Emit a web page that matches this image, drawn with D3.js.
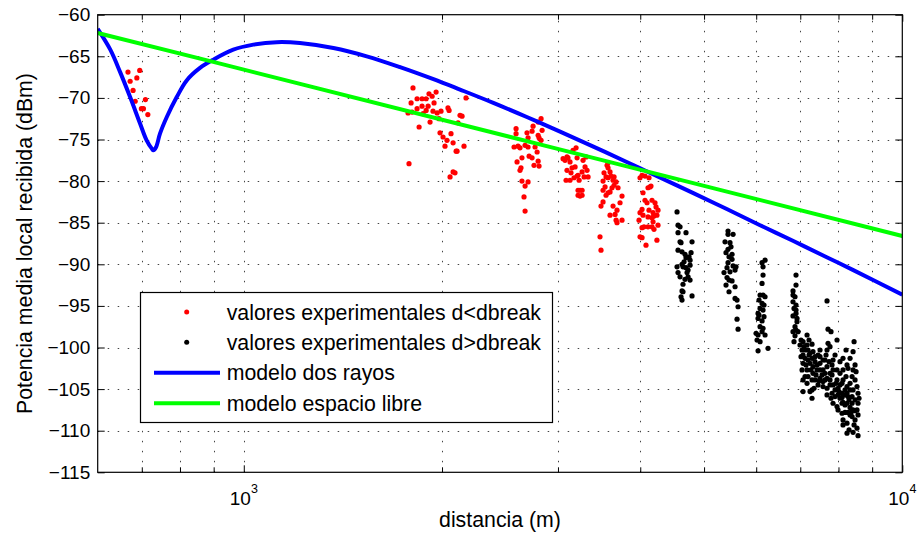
<!DOCTYPE html>
<html>
<head>
<meta charset="utf-8">
<script src="https://cdn.jsdelivr.net/npm/d3@7"></script>
<style>
  body { margin: 0; background: #fff; }
  text { font-family: "Liberation Sans", Arial, Helvetica, sans-serif; fill: #000; }
</style>
</head>
<body>
<script>
// measured points, distance (m) and power (dBm)
var redPoints = [
  [667,-66.9],[672,-68.0],[679,-69.1],[684,-70.4],[688,-67.6],[695,-66.7],[699,-71.3],[704,-71.3],[709,-70.2],[715,-72.0],
  [1807,-68.8],[1795,-70.6],[1833,-70.1],[1865,-70.1],[1892,-70.1],[1911,-69.5],[1932,-69.8],[1959,-69.3],[1945,-70.6],[1905,-71.0],
  [1865,-71.0],[1833,-71.3],[1801,-71.7],[1776,-71.8],[1846,-73.5],[1872,-71.9],[1918,-72.9],[1938,-71.6],[1966,-71.8],[1993,-71.6],
  [2042,-71.2],[2050,-71.5],[1986,-74.2],[2007,-74.7],[2035,-75.1],[2064,-74.3],[2079,-75.4],[2021,-75.8],[2101,-76.4],[2108,-76.4],
  [2160,-75.8],[2130,-72.1],[2145,-72.2],[2115,-73.0],[2175,-70.0],[1782,-77.9],[2057,-79.5],[2079,-78.9],[2093,-79.0],[1979,-72.5],[1892,-71.5],
  [2591,-73.7],[2591,-74.3],[2573,-75.9],[2609,-75.8],[2627,-76.0],[2600,-77.7],[2645,-77.2],[2636,-78.4],[2627,-78.7],[2645,-80.0],
  [2674,-80.6],[2702,-80.1],[2664,-81.9],[2674,-83.6],[2692,-74.2],[2702,-74.8],[2740,-74.0],[2750,-73.4],[2799,-72.9],[2828,-72.5],
  [2799,-74.5],[2828,-75.1],[2808,-74.8],[2838,-73.9],[2712,-77.0],[2740,-77.2],[2759,-78.1],[2808,-78.2],[2789,-76.5],[2799,-77.6],
  [2769,-75.9],[2702,-75.9],[2674,-75.7],
  [3196,-76.0],[3162,-76.3],[3096,-77.1],[3075,-77.5],[3107,-77.2],[3129,-77.7],[3207,-77.2],[3185,-78.3],[3151,-78.4],[3096,-78.7],
  [3140,-79.0],[3129,-79.9],[3086,-79.9],[3207,-79.4],[3218,-79.3],[3264,-78.9],[3298,-78.3],[3321,-78.7],[3287,-79.5],[3333,-79.5],
  [3275,-77.5],[3310,-77.1],[3218,-81.1],[3241,-81.1],[3264,-81.1],[3218,-81.7],[3241,-81.8],[3264,-81.7],[3173,-79.6],[3230,-79.9],[3054,-77.3],
  [3562,-78.1],[3574,-78.4],[3549,-79.5],[3512,-80.0],[3574,-79.6],[3611,-79.4],[3637,-79.9],[3650,-79.5],[3676,-80.1],[3650,-80.5],
  [3624,-80.8],[3599,-81.3],[3574,-81.4],[3549,-81.7],[3512,-81.1],[3537,-80.7],[3701,-80.8],[3753,-81.8],[3727,-82.6],[3637,-83.0],
  [3688,-83.5],[3663,-84.0],[3599,-84.1],[3512,-82.5],[3487,-83.0],[3676,-84.7],[3688,-85.0],[3753,-84.7],[3475,-86.7],[3487,-88.3],
  [3524,-79.0],[3599,-78.9],[3574,-77.8],
  [4025,-79.3],[3997,-79.6],[4067,-79.4],[4124,-79.6],[4153,-80.6],[4110,-80.8],[4067,-82.3],[4096,-82.6],[4124,-83.5],[4025,-83.4],
  [3997,-83.8],[4039,-84.1],[4110,-84.3],[4168,-84.4],[4197,-84.2],[4240,-84.1],[4256,-83.5],[4227,-83.1],[4183,-83.8],[4183,-84.9],
  [4168,-85.5],[4110,-85.5],[4053,-85.5],[4025,-85.6],[4256,-85.3],[4197,-85.8],[3997,-86.7],[4025,-86.8],[4081,-87.7],[4240,-87.1],
  [3983,-84.7],[4168,-82.3],[4039,-81.4],[4212,-82.6],[4139,-80.7]
];

var blackPoints = [
  [4549,-83.7],[4565,-85.3],[4597,-85.5],[4565,-86.2],[4694,-86.2],[4597,-87.3],[4613,-87.4],[4794,-87.3],[4565,-88.3],[4629,-88.5],
  [4678,-88.8],[4778,-88.6],[4744,-89.1],[4761,-89.5],[4662,-89.7],[4629,-90.0],[4549,-90.3],[4694,-90.4],[4728,-90.7],[4565,-91.0],
  [4711,-91.0],[4728,-91.5],[4678,-91.8],[4597,-91.5],[4761,-91.9],[4645,-92.4],[4629,-93.2],[4613,-93.9],[4629,-94.3],[4794,-93.8],
  [4694,-89.2],[4645,-90.3],[4761,-90.1],[4645,-93.3],
  [5437,-86.0],[5437,-86.4],[5534,-86.4],[5380,-87.3],[5475,-87.4],[5494,-87.9],[5437,-88.2],[5399,-88.6],[5514,-88.8],[5456,-89.1],
  [5514,-89.4],[5437,-89.8],[5534,-90.2],[5591,-90.3],[5572,-90.7],[5361,-91.0],[5418,-91.6],[5456,-91.9],[5514,-92.0],[5399,-92.5],
  [5572,-92.7],[5456,-93.3],[5572,-94.1],[5611,-94.3],[5631,-95.1],[5611,-96.6],[5631,-97.8],[5418,-90.4],[5475,-90.9],
  [6188,-89.5],[6124,-89.8],[6145,-90.3],[6145,-91.3],[6124,-92.3],[6081,-93.7],[6145,-93.7],[6188,-93.9],[6060,-94.3],[6124,-94.7],
  [6166,-94.9],[6081,-95.3],[6145,-95.5],[6039,-95.9],[6060,-96.1],[6039,-96.5],[6124,-96.8],[6081,-97.5],[6145,-97.7],[5997,-98.3],
  [6039,-98.5],[6188,-98.5],[6018,-99.1],[6081,-99.3],[6253,-100.1],[6039,-100.4],[6124,-98.1],[6166,-96.3],
  [6896,-91.3],[6896,-92.5],[6824,-93.2],[6824,-93.7],[6872,-93.9],[6824,-94.5],[6896,-94.9],[6848,-95.3],[6896,-95.9],[6824,-96.2],
  [6920,-96.5],[6920,-96.9],[6872,-97.5],[6896,-97.9],[6824,-98.1],[6872,-98.6],[6848,-99.3],[7686,-94.4],[6944,-98.1],[6896,-95.5],
  [7167,-98.5],[7217,-99.1],[7293,-99.6],[7192,-100.3],[7043,-100.3],[7018,-101.1],[7068,-101.9],[7043,-102.7],[7117,-103.5],[7068,-105.3],
  [7293,-106.1],[7370,-101.1],[7500,-101.9],[7579,-102.7],[7686,-103.7],[7767,-104.5],[7686,-100.3],[7713,-99.5],[7767,-99.9],[7713,-97.8],
  [7794,-98.1],[7959,-99.1],[7849,-101.5],[7959,-102.7],[8043,-103.1],[8128,-103.9],[8043,-104.5],[8242,-104.7],[8330,-105.1],[8242,-105.5],
  [8389,-105.9],[8477,-106.3],[8566,-106.7],[8536,-107.5],[8566,-108.1],[8418,-102.7],[8477,-102.1],[8330,-101.3],[8418,-100.5],[8448,-99.3],
  [8242,-102.1],[8128,-102.7],[8100,-106.7],[7959,-107.1],[7849,-106.7],[8128,-108.7],[8242,-109.1],[8128,-109.3],[8242,-110.3],[8536,-109.7],
  [8566,-110.6],[8389,-108.3],[7500,-103.7],[7579,-104.1],[7686,-104.9],[7821,-105.5],[7904,-105.9],[7422,-102.7],[7242,-101.9],[7167,-102.7],
  [7192,-103.5],[7318,-103.1],[7370,-103.9],[7167,-104.3],[7959,-103.9],[7849,-104.5],[8100,-105.5],[8043,-106.1],[8128,-106.6],[8242,-106.7],
  [8330,-107.2],[8418,-107.5],[8271,-107.8],[8389,-106.7],[8271,-105.9],[8185,-105.1],[8100,-104.3],[7767,-103.1],[7686,-102.3],[7579,-101.5],
  [7448,-100.9],[7318,-100.5],[7167,-99.7],[7068,-99.3],[7117,-101.3],[7293,-101.3],[7318,-102.3],[7422,-102.1],[7553,-103.3],[7632,-103.1],
  [7767,-103.9],[7904,-105.1],[7987,-104.9],[8477,-103.9],[8536,-104.7],[8566,-105.5],[8418,-105.1],[7849,-102.7],[7821,-102.1],[7904,-100.9],
  [8043,-101.7],[8128,-101.3],[8214,-100.3],[8271,-102.5],[8389,-103.5],[8330,-104.3],[7068,-103.9],[7242,-105.3],
  [6993,-99.7],[7117,-100.3],[7242,-100.7],[7370,-101.7],[7500,-102.7],[7068,-100.9],[7192,-101.5],[7293,-103.9],[7448,-104.5],[7632,-103.9],
  [7500,-100.3],[7632,-101.5],[7987,-105.7],[8185,-107.8],[8330,-108.1],[8477,-108.7],
  [7018,-99.1],[7093,-99.9],[7217,-100.9],[7142,-102.1],[7268,-102.7],[7396,-103.3],[7474,-104.0],[7579,-104.7],[7344,-104.9],[7500,-101.1],
  [7659,-100.9],[7740,-101.7],[7821,-103.3],[7931,-104.3],[8015,-105.3],[8100,-106.0],[8185,-106.9],[8301,-106.3],[8360,-107.8],[8477,-107.6],
  [8448,-109.3],[8301,-109.9],[7987,-107.5],[8185,-105.7],[7794,-106.1],[7686,-105.7],[7293,-105.1],[8214,-103.5],[8507,-102.9],[8596,-106.1],
  [8418,-110.2],[8100,-107.9]
];

// model curves
var twoRay = [
  [600,-61.7],[627,-64.2],[649,-66.9],[672,-69.9],[696,-73.1],[712,-75.1],[725,-76.1],[729,-76.3],[736,-75.9],[746,-74.3],
  [764,-72.3],[791,-69.9],[819,-67.9],[858,-66.4],[899,-65.4],[964,-64.2],[1034,-63.6],[1122,-63.3],[1217,-63.4],[1368,-64.0],
  [1537,-65.0],[1727,-66.3],[1941,-67.75],[2130,-69.0],[2393,-70.6],[2690,-72.3],[3022,-74.05],[3395,-75.85],[3815,-77.7],[4188,-79.2],
  [4816,-81.45],[5413,-83.35],[6081,-85.3],[6833,-87.2],[7678,-89.15],[8425,-90.7],[10000,-93.65]
];
var freeSpace = [[600,-62.2],[1000,-66.6],[10000,-86.6]];

var yTicks = [-115,-110,-105,-100,-95,-90,-85,-80,-75,-70,-65,-60];
var xTicksMajor = [1000, 10000];
var xTicksMinor = [700,800,900,2000,3000,4000,5000,6000,7000,8000,9000];
var legendLabels = ["valores experimentales d<dbreak", "valores experimentales d>dbreak",
                    "modelo dos rayos", "modelo espacio libre"];

var width = 918, height = 539;
var plot = {left: 97.7, right: 902.3, top: 14.7, bottom: 472.3};

var svg = d3.select("body")
            .append("svg")
            .attr("width", width)
            .attr("height", height);

var xScale = d3.scaleLog()
               .domain([600, 10000])
               .range([plot.left, plot.right]);

var yScale = d3.scaleLinear()
               .domain([-115, -60])
               .range([plot.bottom, plot.top]);

// dotted grid
var grid = svg.append("g")
              .attr("stroke", "#444")
              .attr("stroke-width", 1)
              .attr("stroke-dasharray", "1.5,8.5");

grid.selectAll(".gx")
    .data(xTicksMinor.concat([1000]))
    .enter()
    .append("line")
    .attr("x1", function(d){ return Math.round(xScale(d)) + 0.5; })
    .attr("x2", function(d){ return Math.round(xScale(d)) + 0.5; })
    .attr("y1", plot.bottom)
    .attr("y2", plot.top);

grid.selectAll(".gy")
    .data(yTicks.slice(1, -1))
    .enter()
    .append("line")
    .attr("x1", plot.left)
    .attr("x2", plot.right)
    .attr("y1", function(d){ return Math.round(yScale(d)) + 0.5; })
    .attr("y2", function(d){ return Math.round(yScale(d)) + 0.5; });

svg.append("clipPath")
   .attr("id", "clip")
   .append("rect")
   .attr("x", plot.left)
   .attr("y", plot.top)
   .attr("width", plot.right - plot.left)
   .attr("height", plot.bottom - plot.top);

var marks = svg.append("g").attr("clip-path", "url(#clip)");

marks.selectAll(".red")
     .data(redPoints)
     .enter()
     .append("circle")
     .attr("cx", function(d){ return xScale(d[0]); })
     .attr("cy", function(d){ return yScale(d[1]); })
     .attr("r", 2.6)
     .attr("fill", "#ff0000");

marks.selectAll(".black")
     .data(blackPoints)
     .enter()
     .append("circle")
     .attr("cx", function(d){ return xScale(d[0]); })
     .attr("cy", function(d){ return yScale(d[1]); })
     .attr("r", 2.6)
     .attr("fill", "#000");

var line = d3.line()
             .x(function(d){ return xScale(d[0]); })
             .y(function(d){ return yScale(d[1]); })
             .curve(d3.curveCatmullRom.alpha(0.5));

marks.append("path")
     .datum(twoRay)
     .attr("d", line)
     .attr("fill", "none")
     .attr("stroke", "#0000ff")
     .attr("stroke-width", 4);

marks.append("path")
     .datum(freeSpace)
     .attr("d", line)
     .attr("fill", "none")
     .attr("stroke", "#00ff00")
     .attr("stroke-width", 4);

// axes with inward ticks on all four sides
function styleAxis(g){
  g.select(".domain").remove();
  g.selectAll("line").attr("stroke", "#000");
  g.selectAll("text").attr("font-size", 19).attr("fill", "#000")
   .attr("font-family", "'Liberation Sans', Arial, Helvetica, sans-serif");
}

svg.append("g")
   .attr("transform", "translate(" + plot.left + ",0)")
   .call(d3.axisLeft(yScale).tickValues(yTicks).tickSize(-7).tickPadding(7.5))
   .call(styleAxis);

svg.append("g")
   .attr("transform", "translate(" + plot.right + ",0)")
   .call(d3.axisRight(yScale).tickValues(yTicks).tickSize(-7).tickFormat(""))
   .call(styleAxis);

svg.append("g")
   .attr("transform", "translate(0," + plot.bottom + ")")
   .call(d3.axisBottom(xScale).tickValues(xTicksMajor).tickSize(-7).tickFormat(""))
   .call(styleAxis);

svg.append("g")
   .attr("transform", "translate(0," + plot.bottom + ")")
   .call(d3.axisBottom(xScale).tickValues(xTicksMinor).tickSize(-5).tickFormat(""))
   .call(styleAxis);

svg.append("g")
   .attr("transform", "translate(0," + plot.top + ")")
   .call(d3.axisTop(xScale).tickValues(xTicksMajor).tickSize(-7).tickFormat(""))
   .call(styleAxis);

svg.append("g")
   .attr("transform", "translate(0," + plot.top + ")")
   .call(d3.axisTop(xScale).tickValues(xTicksMinor).tickSize(-5).tickFormat(""))
   .call(styleAxis);

svg.append("rect")
   .attr("x", plot.left)
   .attr("y", plot.top)
   .attr("width", plot.right - plot.left)
   .attr("height", plot.bottom - plot.top)
   .attr("fill", "none")
   .attr("stroke", "#000")
   .attr("stroke-width", 1.2);

// 10^n labels
svg.selectAll(".xlab")
   .data(xTicksMajor)
   .enter()
   .append("text")
   .attr("x", function(d){ return xScale(d); })
   .attr("y", 505)
   .attr("text-anchor", "middle")
   .attr("font-size", 19)
   .each(function(d){
     var t = d3.select(this);
     t.append("tspan").text("10");
     t.append("tspan").attr("dy", -12.5).attr("font-size", 12.5).text(Math.round(Math.log10(d)));
   });

svg.append("text")
   .attr("x", (plot.left + plot.right) / 2)
   .attr("y", 527)
   .attr("text-anchor", "middle")
   .attr("font-size", 21.3)
   .text("distancia (m)");

svg.append("text")
   .attr("transform", "translate(31.5," + ((plot.top + plot.bottom) / 2) + ") rotate(-90)")
   .attr("text-anchor", "middle")
   .attr("font-size", 21.3)
   .text("Potencia media local recibida (dBm)");

// legend
var legend = svg.append("g");

legend.append("rect")
      .attr("x", 140.5)
      .attr("y", 292.5)
      .attr("width", 412)
      .attr("height", 130)
      .attr("fill", "#fff")
      .attr("stroke", "#000")
      .attr("stroke-width", 1.2);

var legendY = [312, 342.3, 372.7, 403.3];
var legendColors = ["#ff0000", "#000", "#0000ff", "#00ff00"];

legend.selectAll(".lm")
      .data([0, 1])
      .enter()
      .append("circle")
      .attr("cx", 186.7)
      .attr("cy", function(d){ return legendY[d]; })
      .attr("r", 2.5)
      .attr("fill", function(d){ return legendColors[d]; });

legend.selectAll(".ll")
      .data([2, 3])
      .enter()
      .append("line")
      .attr("x1", 154)
      .attr("x2", 220)
      .attr("y1", function(d){ return legendY[d]; })
      .attr("y2", function(d){ return legendY[d]; })
      .attr("stroke", function(d){ return legendColors[d]; })
      .attr("stroke-width", 4);

legend.selectAll("text")
      .data(legendLabels)
      .enter()
      .append("text")
      .attr("x", 226.7)
      .attr("y", function(d, i){ return legendY[i] + 7.5; })
      .attr("font-size", 21.3)
      .text(function(d){ return d; });
</script>
</body>
</html>
